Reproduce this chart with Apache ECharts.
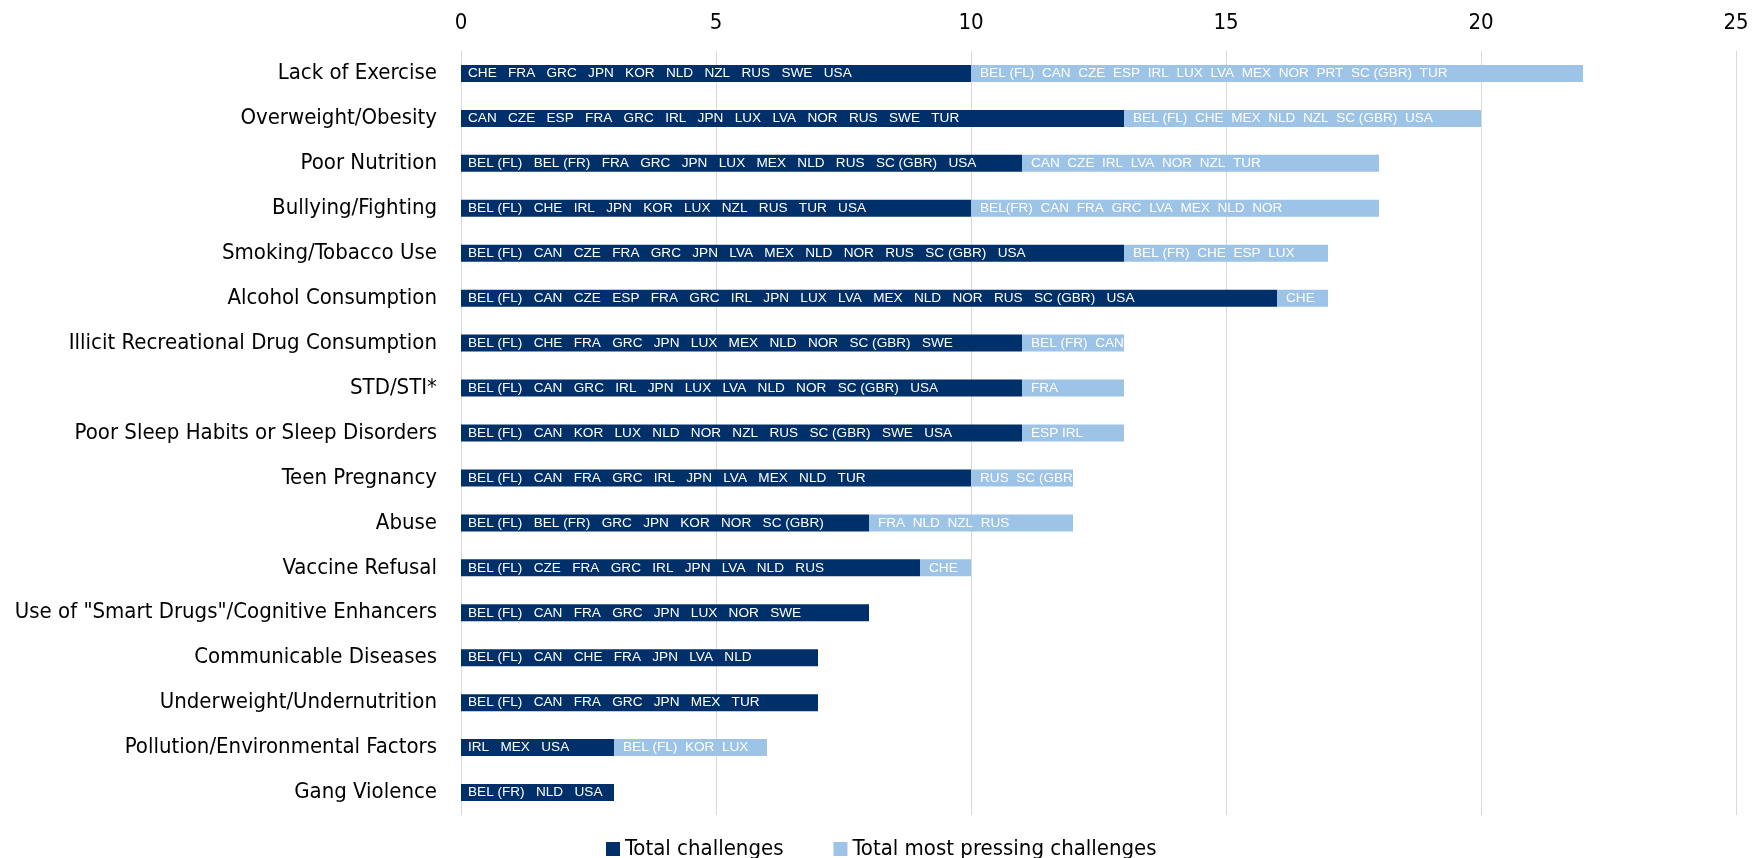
<!DOCTYPE html>
<html>
<head>
<meta charset="utf-8">
<script src="https://cdn.jsdelivr.net/npm/echarts@6/dist/echarts.min.js"></script>
<style>html,body{margin:0;padding:0;background:#fff;}#c{width:1755px;height:858px;}</style>
</head>
<body>
<div id="c"></div>
<script>
const categories = [
  "Lack of Exercise",
  "Overweight/Obesity",
  "Poor Nutrition",
  "Bullying/Fighting",
  "Smoking/Tobacco Use",
  "Alcohol Consumption",
  "Illicit Recreational Drug Consumption",
  "STD/STI*",
  "Poor Sleep Habits or Sleep Disorders",
  "Teen Pregnancy",
  "Abuse",
  "Vaccine Refusal",
  "Use of \"Smart Drugs\"/Cognitive Enhancers",
  "Communicable Diseases",
  "Underweight/Undernutrition",
  "Pollution/Environmental Factors",
  "Gang Violence"
];
const totalChallenges = [10, 13, 11, 10, 13, 16, 11, 11, 11, 10, 8, 9, 8, 7, 7, 3, 3];
const mostPressing = [12, 7, 7, 8, 4, 1, 2, 2, 2, 2, 4, 1, 0, 0, 0, 3, 0];
const totalCountries = [
  ["CHE", "FRA", "GRC", "JPN", "KOR", "NLD", "NZL", "RUS", "SWE", "USA"],
  ["CAN", "CZE", "ESP", "FRA", "GRC", "IRL", "JPN", "LUX", "LVA", "NOR", "RUS", "SWE", "TUR"],
  ["BEL (FL)", "BEL (FR)", "FRA", "GRC", "JPN", "LUX", "MEX", "NLD", "RUS", "SC (GBR)", "USA"],
  ["BEL (FL)", "CHE", "IRL", "JPN", "KOR", "LUX", "NZL", "RUS", "TUR", "USA"],
  ["BEL (FL)", "CAN", "CZE", "FRA", "GRC", "JPN", "LVA", "MEX", "NLD", "NOR", "RUS", "SC (GBR)", "USA"],
  ["BEL (FL)", "CAN", "CZE", "ESP", "FRA", "GRC", "IRL", "JPN", "LUX", "LVA", "MEX", "NLD", "NOR", "RUS", "SC (GBR)", "USA"],
  ["BEL (FL)", "CHE", "FRA", "GRC", "JPN", "LUX", "MEX", "NLD", "NOR", "SC (GBR)", "SWE"],
  ["BEL (FL)", "CAN", "GRC", "IRL", "JPN", "LUX", "LVA", "NLD", "NOR", "SC (GBR)", "USA"],
  ["BEL (FL)", "CAN", "KOR", "LUX", "NLD", "NOR", "NZL", "RUS", "SC (GBR)", "SWE", "USA"],
  ["BEL (FL)", "CAN", "FRA", "GRC", "IRL", "JPN", "LVA", "MEX", "NLD", "TUR"],
  ["BEL (FL)", "BEL (FR)", "GRC", "JPN", "KOR", "NOR", "SC (GBR)"],
  ["BEL (FL)", "CZE", "FRA", "GRC", "IRL", "JPN", "LVA", "NLD", "RUS"],
  ["BEL (FL)", "CAN", "FRA", "GRC", "JPN", "LUX", "NOR", "SWE"],
  ["BEL (FL)", "CAN", "CHE", "FRA", "JPN", "LVA", "NLD"],
  ["BEL (FL)", "CAN", "FRA", "GRC", "JPN", "MEX", "TUR"],
  ["IRL", "MEX", "USA"],
  ["BEL (FR)", "NLD", "USA"]
];
const pressingCountries = [
  ["BEL (FL)", "CAN", "CZE", "ESP", "IRL", "LUX", "LVA", "MEX", "NOR", "PRT", "SC (GBR)", "TUR"],
  ["BEL (FL)", "CHE", "MEX", "NLD", "NZL", "SC (GBR)", "USA"],
  ["CAN", "CZE", "IRL", "LVA", "NOR", "NZL", "TUR"],
  ["BEL(FR)", "CAN", "FRA", "GRC", "LVA", "MEX", "NLD", "NOR"],
  ["BEL (FR)", "CHE", "ESP", "LUX"],
  ["CHE"],
  ["BEL (FR)", "CAN"],
  ["FRA"],
  ["ESP IRL"],
  ["RUS", "SC (GBR)"],
  ["FRA", "NLD", "NZL", "RUS"],
  ["CHE"],
  [], [], [],
  ["BEL (FL)", "KOR", "LUX"],
  []
];
const xTicks = { min: 0, max: 25, interval: 5 };

const NARROW = '"Liberation Sans Narrow", "Arial Narrow", "DejaVu Sans Condensed", sans-serif';
const SANS = '"Liberation Sans", Arial, sans-serif';
const chart = echarts.init(document.getElementById('c'));
chart.setOption({
  animation: false,
  backgroundColor: '#ffffff',
  textStyle: { fontFamily: NARROW },
  grid: { left: 461, right: 19, top: 51, bottom: 43, containLabel: false },
  xAxis: {
    type: 'value', position: 'top',
    min: xTicks.min, max: xTicks.max, interval: xTicks.interval,
    axisLine: { show: false }, axisTick: { show: false },
    axisLabel: { color: '#000', fontSize: 22, fontFamily: NARROW, margin: 17 },
    splitLine: { show: true, lineStyle: { color: '#D9D9D9', width: 1 } }
  },
  yAxis: {
    type: 'category', data: categories, inverse: true,
    axisLine: { show: false }, axisTick: { show: false },
    axisLabel: { color: '#000', fontSize: 22, fontFamily: NARROW, margin: 24 }
  },
  legend: {
    top: 833, left: 601, icon: 'rect', itemWidth: 14, itemHeight: 14, itemGap: 50,
    textStyle: { color: '#000', fontSize: 22, fontFamily: NARROW },
    data: ['Total challenges', 'Total most pressing challenges']
  },
  series: [
    {
      name: 'Total challenges', type: 'bar', stack: 'a', data: totalChallenges,
      barWidth: 17,
      itemStyle: { color: '#003069' },
      label: {
        show: true, position: 'insideLeft', color: '#fff', fontSize: 13.6, fontFamily: SANS, distance: 7,
        formatter: p => totalCountries[p.dataIndex].join('   ')
      }
    },
    {
      name: 'Total most pressing challenges', type: 'bar', stack: 'a', data: mostPressing,
      barWidth: 17,
      itemStyle: { color: '#9DC3E6' },
      label: {
        show: true, position: 'insideLeft', color: '#fff', fontSize: 13.6, fontFamily: SANS, distance: 9,
        formatter: p => pressingCountries[p.dataIndex].join('  ')
      }
    }
  ]
});
</script>
</body>
</html>
